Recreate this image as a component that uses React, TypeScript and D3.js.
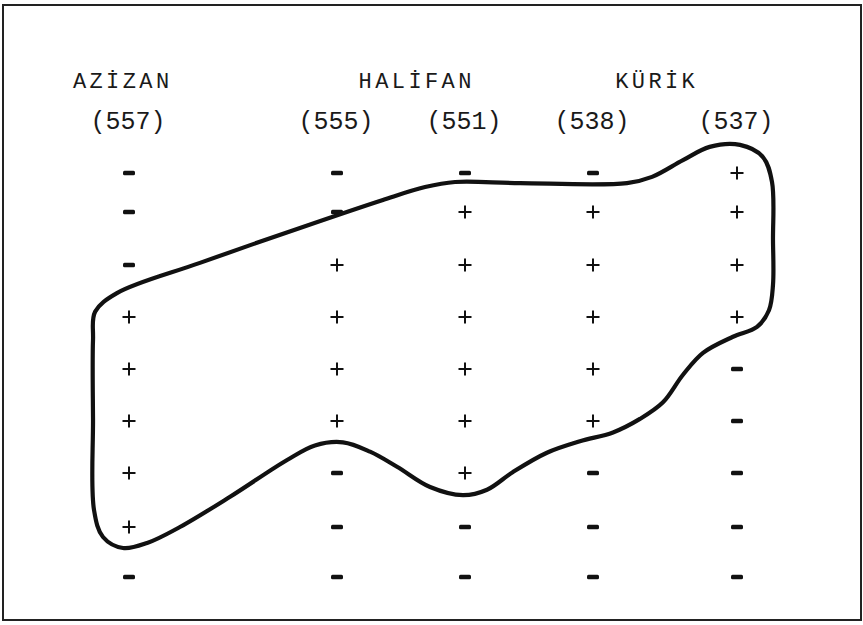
import * as d3 from 'd3';
import React, { FC, useEffect } from 'react';

// groups and their sample numbers (header rows)
const groups = [
	{ name: 'AZİZAN', from: 0, to: 0 },
	{ name: 'HALİFAN', from: 1, to: 2 },
	{ name: 'KÜRİK', from: 3, to: 4 },
];
const samples = ['(557)', '(555)', '(551)', '(538)', '(537)'];

// reaction signs, one string per row, one char per sample column
const signRows = [
	'----+',
	'--+++',
	'-++++',
	'+++++',
	'++++-',
	'++++-',
	'+-+--',
	'+----',
	'-----',
];

// hand-drawn boundary, in [column index, row index] units
const outline: [number, number][] = [
	[-0.173, 3.44], [-0.163, 2.9], [-0.058, 2.54], [0.341, 1.96], [0.822, 1.3],
	[1.359, 0.69], [1.688, 0.36], [1.922, 0.23], [2.43, 0.26], [3.236, 0.26],
	[3.41, 0.1], [3.625, -0.33], [3.81, -0.67], [4.021, -0.72], [4.18, -0.41],
	[4.243, 0.23], [4.25, 1.53], [4.25, 2.38], [4.222, 2.87], [4.139, 3.19],
	[3.972, 3.38], [3.764, 3.69], [3.625, 4.11], [3.486, 4.64], [3.326, 4.96],
	[3.139, 5.22], [2.898, 5.39], [2.64, 5.61], [2.375, 5.98], [2.172, 6.31],
	[1.984, 6.41], [1.727, 6.26], [1.469, 5.88], [1.258, 5.59], [1.047, 5.41],
	[0.894, 5.47], [0.76, 5.75], [0.486, 6.44], [0.245, 7.0], [0.087, 7.32],
	[-0.029, 7.42], [-0.125, 7.2], [-0.168, 6.69], [-0.173, 4.96],
];

export const SignChart: FC = () => {
	const containerDiv = React.useRef<HTMLDivElement>(null);
	const { height, width } = { height: 625, width: 863 };
	// typewriter did not centre the group names exactly
	const labelNudge = [-8, 14, -10];

	const initialize = () => {
		// typed columns are not evenly spaced, so use a polylinear scale
		const x = d3.scaleLinear().domain([0, 1, 2, 3, 4]).range([129, 337, 465, 593, 737]);
		const y = d3
			.scaleLinear()
			.domain(d3.range(signRows.length))
			.range([173, 212, 265, 317, 369, 421, 473, 527, 577]);

		const svg = d3
			.create('svg')
			.attr('width', width)
			.attr('height', height)
			.attr('viewBox', `0, 0, ${width}, ${height}`)
			.style('position', 'absolute')
			.style('left', '0px')
			.style('top', '0px')
			.style('background', '#fff');

		svg.append('rect')
			.attr('x', 3)
			.attr('y', 5)
			.attr('width', 858)
			.attr('height', 615)
			.attr('fill', 'none')
			.attr('stroke', '#222')
			.attr('stroke-width', 2);

		const font = '"Liberation Mono", "DejaVu Sans Mono", monospace';

		svg.append('g')
			.selectAll('text')
			.data(groups)
			.join('text')
			.attr('x', (d: any, i) => (x(d.from) + x(d.to)) / 2 + labelNudge[i] + 1.7)
			.attr('y', 88)
			.attr('text-anchor', 'middle')
			.attr('font-family', font)
			.attr('font-size', 22)
			.attr('letter-spacing', 3.4)
			.attr('fill', '#1a1a1a')
			.text((d: any) => d.name);

		svg.append('g')
			.selectAll('text')
			.data(samples)
			.join('text')
			.attr('x', (d, i) => x(i) - 1)
			.attr('y', 129)
			.attr('text-anchor', 'middle')
			.attr('font-family', font)
			.attr('font-size', 25)
			.attr('fill', '#1a1a1a')
			.text(d => d);

		const cells: any[] = [];
		signRows.forEach((row, r) => {
			row.split('').forEach((s, c) => cells.push({ r, c, s }));
		});

		const marks = svg
			.append('g')
			.selectAll('g')
			.data(cells)
			.join('g')
			.attr('transform', (d: any) => `translate(${x(d.c)},${y(d.r)})`);

		marks.filter((d: any) => d.s === '+')
			.append('path')
			.attr('d', 'M-6.5,0H6.5M0,-6.5V6.5')
			.attr('stroke', '#111')
			.attr('stroke-width', 2);

		marks.filter((d: any) => d.s === '-')
			.append('rect')
			.attr('x', -6)
			.attr('y', -2.2)
			.attr('width', 12)
			.attr('height', 4.4)
			.attr('rx', 1.5)
			.attr('fill', '#111');

		const line = d3
			.line<[number, number]>()
			.x(d => x(d[0]))
			.y(d => y(d[1]))
			.curve(d3.curveCatmullRomClosed.alpha(0.5));

		svg.append('path')
			.attr('d', line(outline))
			.attr('fill', 'none')
			.attr('stroke', '#111')
			.attr('stroke-width', 4.2)
			.attr('stroke-linejoin', 'round');

		return svg.node();
	};

	useEffect(() => {
		const chart = initialize();
		const container: HTMLDivElement = containerDiv.current as HTMLDivElement;
		if (container && chart) {
			container.firstChild && container.removeChild(container.firstChild);
			container.appendChild(chart);
		}
	}, []);

	return <div ref={containerDiv}></div>;
};

export default function App() {
	return <SignChart />;
}
